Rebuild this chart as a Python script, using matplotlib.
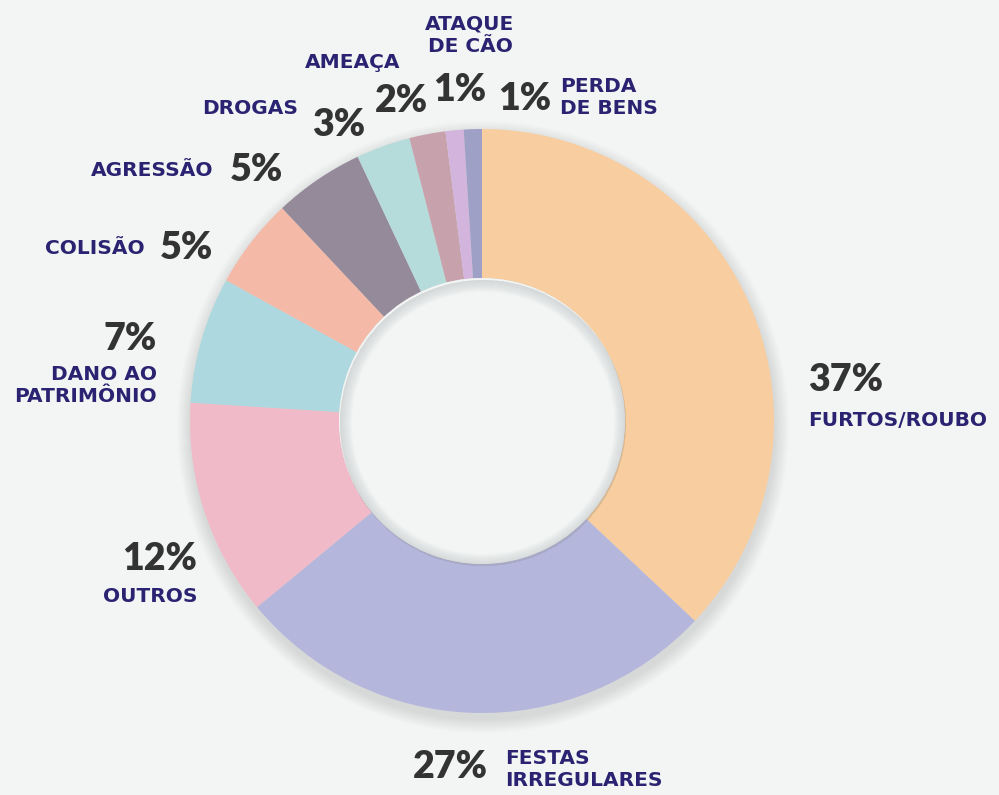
import matplotlib.pyplot as plt
from matplotlib.patches import Circle, Wedge

# Data
categories = [
    "FURTOS/ROUBO",
    "FESTAS\nIRREGULARES",
    "OUTROS",
    "DANO AO\nPATRIMÔNIO",
    "COLISÃO",
    "AGRESSÃO",
    "DROGAS",
    "AMEAÇA",
    "ATAQUE\nDE CÃO",
    "PERDA\nDE BENS",
]
shares = [37, 27, 12, 7, 5, 5, 3, 2, 1, 1]
colors = [
    "#F8CDA0",
    "#B4B6DC",
    "#F1BAC8",
    "#ADD8DF",
    "#F5B9A7",
    "#958A9A",
    "#B5DCDA",
    "#C7A2AC",
    "#D3B4DC",
    "#9FA0C6",
]

BG = "#F2F5F4"
NAVY = "#2B2371"
DARK = "#333333"
W, H = 999, 795

plt.rcParams["font.family"] = ["Lato", "DejaVu Sans"]

fig = plt.figure(figsize=(W / 100, H / 100), dpi=100, facecolor=BG)
ax = fig.add_axes([0, 0, 1, 1])


def px(x, y):
    # image pixel coords (y down) -> axes coords
    return x, H - y


cx, cy = px(482, 421)
r_out = 292
r_in = 143

# soft outer shadow
for k in range(14):
    ax.add_patch(
        Circle((cx + 1, cy - 6), r_out + 14 - k, color="#9A9EA0", alpha=0.018, lw=0, zorder=1)
    )

ax.pie(
    shares,
    colors=colors,
    startangle=90,
    counterclock=False,
    radius=r_out,
    center=(cx, cy),
    wedgeprops=dict(width=r_out - r_in, linewidth=0),
    frame=True,
)
ax.set_xlim(0, W)
ax.set_ylim(0, H)
ax.set_aspect("equal")
ax.axis("off")

# inner hole with soft inner shadow
ax.add_patch(Circle((cx, cy), r_in, color=BG, lw=0, zorder=3))
for k in range(12):
    ax.add_patch(
        Wedge((cx + 1, cy - 2), r_in, 0, 360, width=1 + k * 1.0, color="#8E9294",
              alpha=0.025, lw=0, zorder=4)
    )

# labels: (pct pos, pct ha, label pos, label ha)
pct_kw = dict(color=DARK, fontsize=27, fontweight="heavy", va="center", zorder=6)
lab_kw = dict(color=NAVY, fontsize=14.5, fontweight="bold", va="center",
              linespacing=1.2, family="DejaVu Sans", zorder=6)

layout = [
    ((808, 380), "left", (808, 421), "left"),
    ((413, 767), "left", (505, 769), "left"),
    ((197, 559), "right", (197, 597), "right"),
    ((157, 339), "right", (157, 386), "right"),
    ((213, 248), "right", (145, 248), "right"),
    ((283, 170), "right", (213, 170), "right"),
    ((365, 125), "right", (298, 108), "right"),
    ((428, 101), "right", (400, 62), "right"),
    ((486, 90), "right", (470, 35), "center"),
    ((498, 99), "left", (560, 98), "left"),
]

for name, val, (ppos, pha, lpos, lha) in zip(categories, shares, layout):
    ax.text(*px(*ppos), f"{val}%", ha=pha, **pct_kw)
    ax.text(*px(*lpos), name, ha=lha, multialignment=lha, **lab_kw)

fig.savefig("out.png", dpi=100, facecolor=BG)
